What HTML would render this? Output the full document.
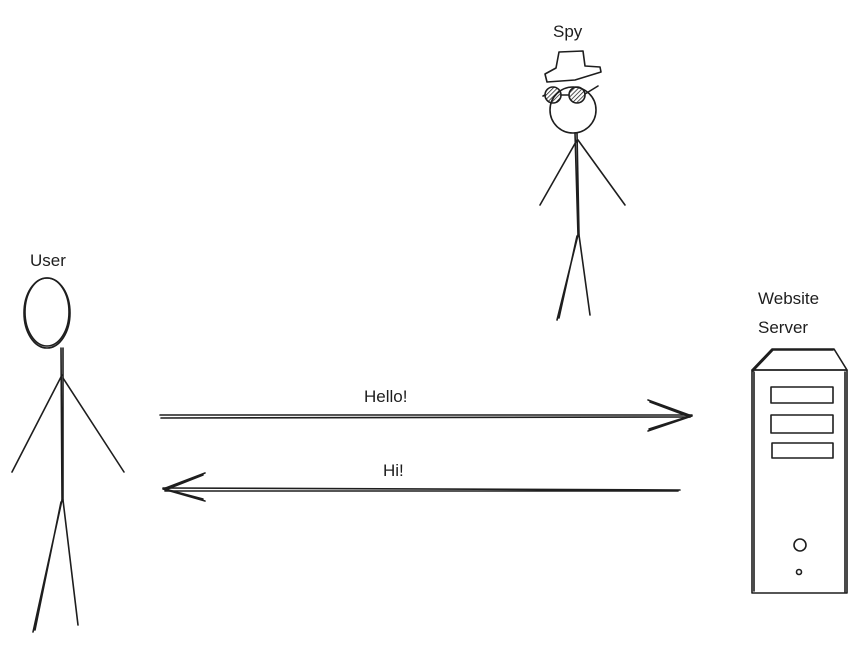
<!DOCTYPE html>
<html><head><meta charset="utf-8"><style>
html,body{margin:0;padding:0;background:#fff;}
svg{display:block;}
text{font-family:"Liberation Sans",sans-serif;font-size:17px;fill:#1e1e1e;}
</style></head><body>
<svg width="861" height="646" viewBox="0 0 861 646" fill="none" stroke="#1e1e1e" stroke-width="1.6" stroke-linecap="round" stroke-linejoin="round">
<defs><pattern id="hatch" width="3" height="3" patternUnits="userSpaceOnUse" patternTransform="rotate(45)"><line x1="0" y1="0" x2="0" y2="3" stroke="#1e1e1e" stroke-width="1.5"/></pattern></defs>

<g>
<text x="553" y="37" stroke="none">Spy</text>
<circle cx="573" cy="110" r="23"/>
<path d="M559 52 L583 51 L585 66 L600 67 L601 72 L575 80 L547 82 L545 74 L556 68 Z" fill="#fff"/>
<circle cx="553" cy="95" r="8" fill="url(#hatch)"/>
<circle cx="577" cy="95" r="8" fill="url(#hatch)"/>
<path d="M561 95 L569 95 M585 94 L598 86 M545 95 L543 96"/>
<path d="M575 133 L578 235 M577 133 L579 235"/>
<path d="M577 140 L540 205 M578 140 L625 205"/>
<path d="M578 235 L557 320 M579 235 L590 315 M577 236 L559 318"/>
</g>

<g>
<text x="30" y="266" stroke="none">User</text>
<ellipse cx="47" cy="313" rx="23" ry="35"/>
<ellipse cx="47" cy="312" rx="22" ry="34"/>
<path d="M61 348 L62 500 M63 348 L63 500"/>
<path d="M62 375 L12 472 M63 378 L124 472"/>
<path d="M62 500 L33 632 M63 500 L78 625 M61 502 L35 630"/>
</g>

<g>
<text x="364" y="402" stroke="none">Hello!</text>
<path d="M160 415 L692 415 M161 418 L690 417"/>
<path d="M692 416 L648 400 M690 417 L650 402 M692 416 L648 431 M690 416 L649 429"/>
</g>

<g>
<text x="383" y="476" stroke="none">Hi!</text>
<path d="M163 488 L680 490 M165 491 L678 491"/>
<path d="M163 489 L205 473 M165 490 L203 475 M163 489 L205 501 M165 489 L203 499"/>
</g>

<g>
<text x="758" y="304" stroke="none">Website</text>
<text x="758" y="333" stroke="none">Server</text>
<path d="M752 370 L772 349 L834 349 L847 370 Z M753 371 L773 350 L833 350"/>
<rect x="752" y="370" width="95" height="223"/>
<path d="M754 372 L754 591 M845 372 L845 592"/>
<rect x="771" y="387" width="62" height="16"/>
<rect x="771" y="415" width="62" height="18"/>
<rect x="772" y="443" width="61" height="15"/>
<circle cx="800" cy="545" r="6"/>
<circle cx="799" cy="572" r="2.5"/>
</g>
</svg>
</body></html>
